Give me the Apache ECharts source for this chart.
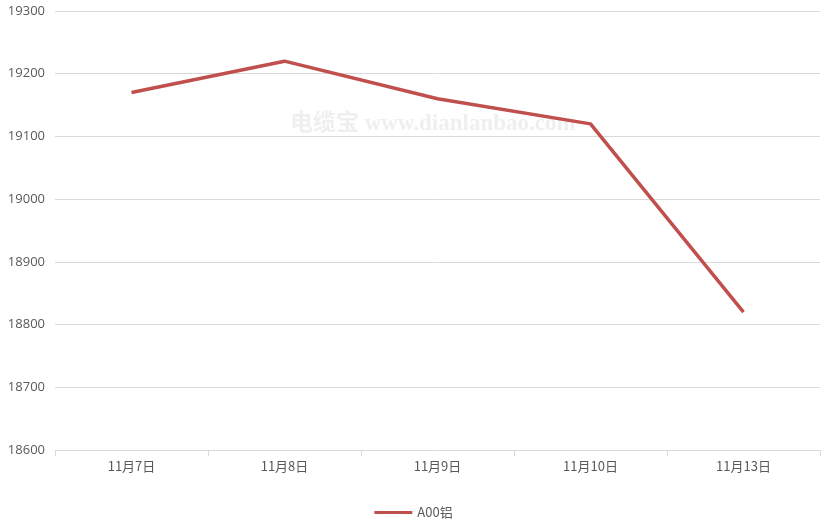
<!DOCTYPE html>
<html><head><meta charset="utf-8">
<script src="https://cdn.jsdelivr.net/npm/echarts@6/dist/echarts.min.js"></script>
<style>html,body{margin:0;padding:0;background:#fff}#c{width:827px;height:528px}</style>
</head><body><div id="c"></div>
<script>
const categories = ['11月7日','11月8日','11月9日','11月10日','11月13日'];
const seriesName = 'A00铝';
const values = [19170, 19220, 19160, 19120, 18820];
const yMin = 18600, yMax = 19300, yStep = 100;

const chart = echarts.init(document.getElementById('c'));
chart.setOption({
  animation: false,
  backgroundColor: '#fff',
  textStyle: { fontFamily: '"Noto Sans CJK SC", "Open Sans", sans-serif' },
  grid: { left: 55, right: 7, top: 11, bottom: 78 },
  graphic: [{
    type: 'text', left: 290, top: 113, z: 0,
    style: { text: '电缆宝 www.dianlanbao.com', fill: '#efefef', font: 'bold 23px "Liberation Serif", "Noto Sans CJK SC", serif' }
  }],
  legend: {
    bottom: 4, left: 'center', itemWidth: 38, itemHeight: 3, icon: 'rect',
    textStyle: { color: '#595959', fontSize: 13 },
    data: [seriesName]
  },
  xAxis: {
    type: 'category', data: categories, boundaryGap: true,
    axisLine: { lineStyle: { color: '#d9d9d9' } },
    axisTick: { show: true, length: 6, lineStyle: { color: '#d9d9d9' } },
    axisLabel: { color: '#595959', fontSize: 13, margin: 10 }
  },
  yAxis: {
    type: 'value', min: yMin, max: yMax, interval: yStep,
    axisLine: { show: false }, axisTick: { show: false },
    axisLabel: { color: '#595959', fontSize: 13, margin: 10, fontFamily: '"Open Sans", sans-serif', formatter: v => String(v) },
    splitLine: { lineStyle: { color: '#d9d9d9' } }
  },
  series: [{
    name: seriesName, type: 'line', data: values, symbol: 'none',
    lineStyle: { color: '#c0504d', width: 3.5 }, itemStyle: { color: '#c0504d' }, z: 5
  }]
});
</script></body></html>
